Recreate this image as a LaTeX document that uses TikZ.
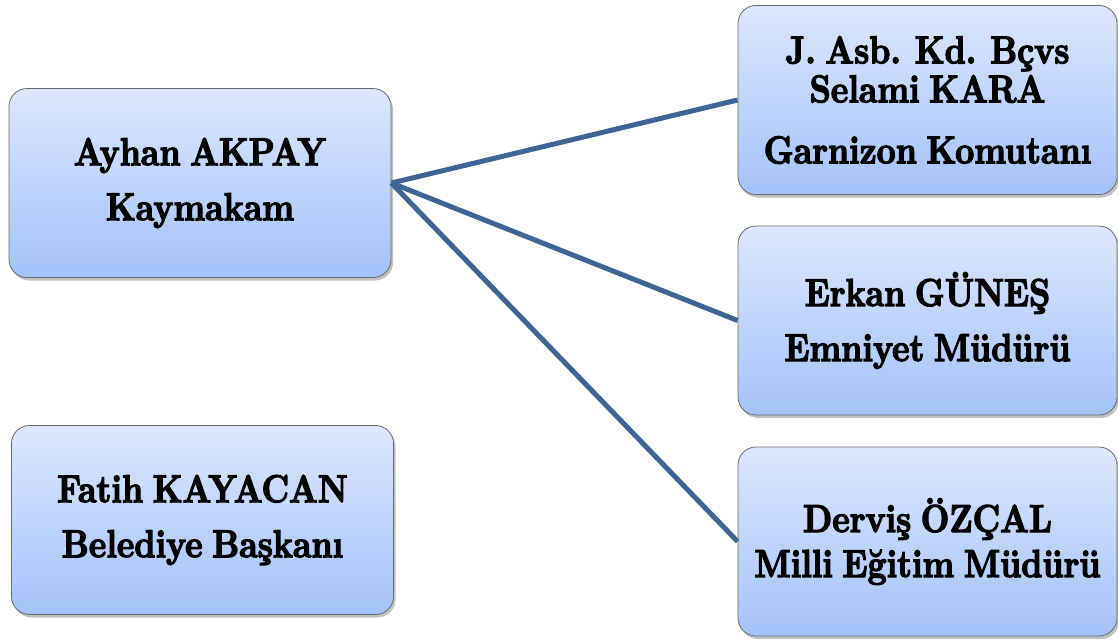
\documentclass[tikz,border=0pt]{standalone}
\usepackage{fontspec}
\newfontfamily\boxfont{lmroman10-bold.otf}[FakeStretch=0.85,FakeBold=3,WordSpace=0.75]
\usetikzlibrary{shadows}
\definecolor{linec}{RGB}{64,100,148}
\definecolor{boxtop}{RGB}{221,231,252}
\definecolor{boxbot}{RGB}{164,194,249}
\definecolor{boxedge}{RGB}{105,105,110}
\tikzset{
  orgbox/.style={draw=boxedge, line width=0.8pt, rounded corners=18pt,
    top color=boxtop, bottom color=boxbot,
    minimum width=382pt, minimum height=189pt, align=center, inner sep=0pt,
    font=\boxfont\fontsize{39}{55}\selectfont,
    drop shadow={shadow xshift=2pt, shadow yshift=-3pt, opacity=0.35, fill=black!70}},
  link/.style={draw=linec, line width=5pt}
}
\begin{document}
\begin{tikzpicture}[x=1pt,y=1pt]
\useasboundingbox (0,0) rectangle (1118,-640);
\node[orgbox] (ayhan) at (200,-183) {Ayhan AKPAY\\Kaymakam};
\node[orgbox] (fatih) at (202.5,-520) {Fatih KAYACAN\\Belediye Başkanı};
\node[orgbox, minimum width=379pt, font=\boxfont\fontsize{39}{39}\selectfont] (selami) at (927.5,-100) {J. Asb. Kd. Bçvs\\Selami KARA\\[22pt]Garnizon Komutanı};
\node[orgbox, minimum width=379pt] (erkan) at (927.5,-320.5) {Erkan GÜNEŞ\\Emniyet Müdürü};
\node[orgbox, minimum width=379pt, font=\boxfont\fontsize{39}{45}\selectfont] (dervis) at (927.5,-541.5) {Derviş ÖZÇAL\\Milli Eğitim Müdürü};
\draw[link] (ayhan.east) -- (selami.west);
\draw[link] (ayhan.east) -- (erkan.west);
\draw[link] (ayhan.east) -- (dervis.west);
\end{tikzpicture}
\end{document}
